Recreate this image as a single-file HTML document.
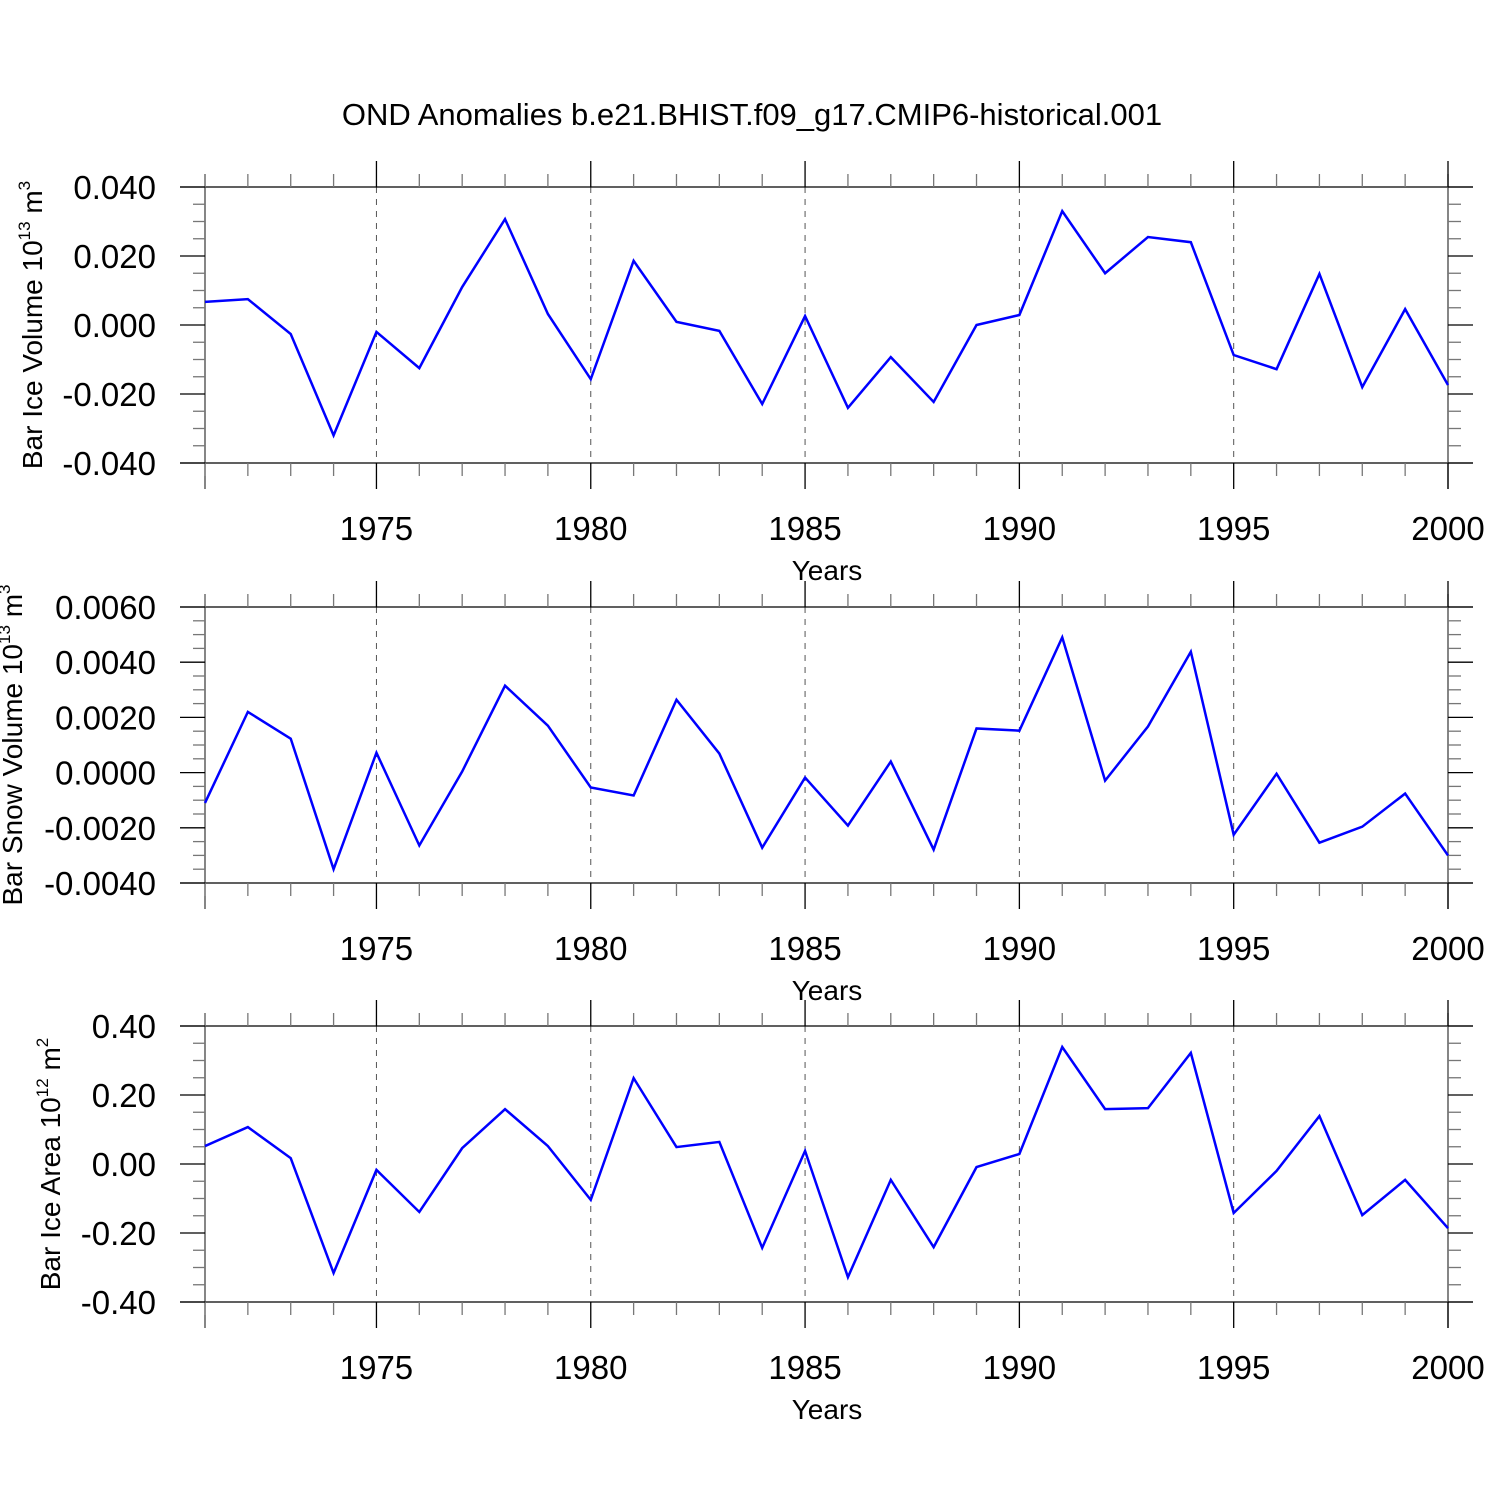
<!DOCTYPE html>
<html><head><meta charset="utf-8"><style>
body{margin:0;background:#fff}
svg text{font-family:"Liberation Sans",Arial,sans-serif;fill:#000}
</style></head><body>
<svg id="chart" width="1500" height="1500" xmlns="http://www.w3.org/2000/svg">
<text x="752" y="125" font-size="31" text-anchor="middle">OND Anomalies b.e21.BHIST.f09_g17.CMIP6-historical.001</text>
</svg>
<script>
const years = [1971,1972,1973,1974,1975,1976,1977,1978,1979,1980,1981,1982,1983,1984,1985,1986,1987,1988,1989,1990,1991,1992,1993,1994,1995,1996,1997,1998,1999,2000];
const iceVolume = [0.0067,0.0075,-0.0026,-0.032,-0.002,-0.0125,0.011,0.0307,0.0032,-0.0157,0.0186,0.0009,-0.0017,-0.0229,0.0026,-0.024,-0.0093,-0.0223,0.0,0.0029,0.033,0.015,0.0255,0.024,-0.0087,-0.0128,0.0148,-0.018,0.0046,-0.0174];
const snowVolume = [-0.0011,0.0022,0.00123,-0.0035,0.00072,-0.00264,0.00004,0.00315,0.0017,-0.00054,-0.00083,0.00264,0.00069,-0.00272,-0.00018,-0.00192,0.0004,-0.00279,0.0016,0.00152,0.0049,-0.00029,0.00167,0.00438,-0.00225,-0.00004,-0.00254,-0.00196,-0.00076,-0.003];
const iceArea = [0.052,0.107,0.017,-0.316,-0.017,-0.139,0.046,0.159,0.052,-0.104,0.249,0.049,0.064,-0.243,0.038,-0.328,-0.046,-0.241,-0.009,0.029,0.339,0.159,0.162,0.322,-0.142,-0.02,0.139,-0.148,-0.046,-0.186];
const xTicks = [1975,1980,1985,1990,1995,2000];
const iceVolTicks = [-0.04,-0.02,0,0.02,0.04];
const snowTicks = [-0.004,-0.002,0,0.002,0.004,0.006];
const areaTicks = [-0.4,-0.2,0,0.2,0.4];

const svg = document.getElementById('chart');
const NS = 'http://www.w3.org/2000/svg';
function mk(tag, attrs, parent){const e=document.createElementNS(NS,tag);for(const k in attrs)e.setAttribute(k,attrs[k]);(parent||svg).appendChild(e);return e;}
const X0=205, X1=1448;
const xs = y => X0 + (y-1971)*(X1-X0)/29;

function panel(name, top, vals, ticks, dec, ylabelParts){
  const bot = top+276;
  const vmin=ticks[0], vmax=ticks[ticks.length-1];
  const ys = v => bot - (v-vmin)/(vmax-vmin)*(bot-top);
  const g = mk('g',{});
  
  
  for(const t of xTicks){ if(t===2000) continue;
    const l=mk('line',{x1:xs(t),x2:xs(t),y1:top,y2:bot,stroke:'#555','stroke-width':1,'stroke-dasharray':'6,6'},g);
    
    
  }
  mk('line',{x1:180,x2:1473,y1:top,y2:top,stroke:'#000','stroke-width':1.3},g);
  mk('line',{x1:180,x2:1473,y1:bot,y2:bot,stroke:'#000','stroke-width':1.3},g);
  mk('line',{x1:X0,x2:X0,y1:top-13,y2:bot+26,stroke:'#444','stroke-width':1.3},g);
  mk('line',{x1:X1,x2:X1,y1:top-13,y2:bot+26,stroke:'#444','stroke-width':1.3},g);
  for(let y=1971;y<=2000;y++){
    const maj = y%5===0;
    const len = maj?26:13;
    mk('line',{x1:xs(y),x2:xs(y),y1:top,y2:top-len,stroke:maj?'#000':'#777','stroke-width':1.3},g);
    mk('line',{x1:xs(y),x2:xs(y),y1:bot,y2:bot+len,stroke:maj?'#000':'#777','stroke-width':1.3},g);
  }
  for(const t of xTicks){
    const tx=mk('text',{x:xs(t),y:bot+77,'font-size':33,'text-anchor':'middle'},g);
    tx.textContent=t;
    
    
  }
  const xl=mk('text',{x:827,y:bot+117,'font-size':28,'text-anchor':'middle'},g);
  xl.textContent='Years';
  
  
  const step=(ticks[1]-ticks[0])/4;
  for(let i=0;i<=(ticks.length-1)*4;i++){
    const v=vmin+i*step, y=ys(v), maj=i%4===0;
    mk('line',{x1:X0,x2:maj?180:193,y1:y,y2:y,stroke:maj?'#000':'#777','stroke-width':1.3},g);
    mk('line',{x1:X1,x2:maj?1473:1461,y1:y,y2:y,stroke:maj?'#000':'#777','stroke-width':1.3},g);
  }
  for(const t of ticks){
    const tx=mk('text',{x:156,y:ys(t)+12,'font-size':33,'text-anchor':'end'},g);
    tx.textContent=t.toFixed(dec);
    
    
  }
  const cy=(top+bot)/2;
  const yl=mk('text',{x:0,y:0,'font-size':28,'text-anchor':'middle',transform:`translate(${ylabelParts.x},${cy}) rotate(-90)`},g);
  
  
  const t1=document.createElementNS(NS,'tspan');t1.textContent=ylabelParts.a;yl.appendChild(t1);
  const t2=document.createElementNS(NS,'tspan');t2.setAttribute('dy','-12');t2.setAttribute('font-size','17');t2.textContent=ylabelParts.e1;yl.appendChild(t2);
  const t3=document.createElementNS(NS,'tspan');t3.setAttribute('dy','12');t3.textContent=' m';yl.appendChild(t3);
  const t4=document.createElementNS(NS,'tspan');t4.setAttribute('dy','-12');t4.setAttribute('font-size','17');t4.textContent=ylabelParts.e2;yl.appendChild(t4);
  const pts=years.map((yr,i)=>xs(yr)+','+ys(vals[i])).join(' ');
  const pl=mk('polyline',{points:pts,fill:'none',stroke:'#0000ff','stroke-width':2.5,'stroke-linejoin':'miter'},g);
  
  
}
panel('ice-volume',187,iceVolume,iceVolTicks,3,{x:42,a:'Bar Ice Volume 10',e1:'13',e2:'3'});
panel('snow-volume',607,snowVolume,snowTicks,4,{x:22,a:'Bar Snow Volume 10',e1:'13',e2:'3'});
panel('ice-area',1026,iceArea,areaTicks,2,{x:60,a:'Bar Ice Area 10',e1:'12',e2:'2'});
</script>
</body></html>
